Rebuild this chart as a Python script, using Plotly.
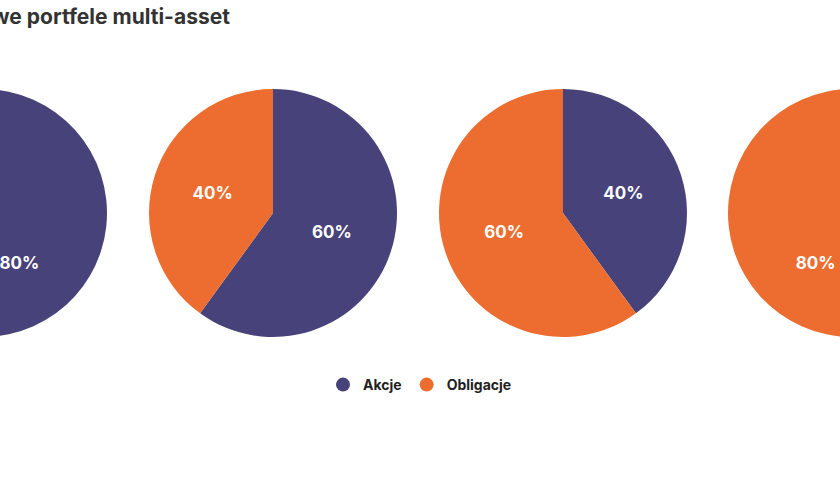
import plotly.graph_objects as go

labels = ["Akcje", "Obligacje"]
portfolios = [[80, 20], [60, 40], [40, 60], [20, 80]]
colors = ["#47427a", "#ec6d2f"]
title = "Przykładowe portfele multi-asset"

W, H, SHIFT = 1160, 480, 160
centers = [-17, 273, 563, 852]
R = 124
fig = go.Figure()
for cx, vals in zip(centers, portfolios):
    c = (cx + SHIFT) / W
    fig.add_trace(go.Pie(
        labels=labels, values=vals, sort=False, direction="clockwise", rotation=0,
        marker=dict(colors=colors), texttemplate="<b>%{percent:.0%}</b>", textinfo="percent",
        textposition="inside", insidetextfont=dict(color="white", size=17, family="Inter"),
        showlegend=False, hoverinfo="skip",
        domain=dict(x=[c - R / W, c + R / W], y=[(H - 213 - R) / H, (H - 213 + R) / H])))
for lab, col in zip(labels, colors):
    fig.add_trace(go.Scatter(x=[None], y=[None], mode="markers", name="<b>" + lab + "</b>",
                             marker=dict(symbol="circle", size=14, color=col)))
fig.update_xaxes(visible=False)
fig.update_yaxes(visible=False)
fig.add_annotation(text="<b>" + title + "</b>", xref="paper", yref="paper",
                   x=(232 + SHIFT) / W, y=1 - 17 / H, xanchor="right", yanchor="middle",
                   showarrow=False, font=dict(size=21, color="#333333", family="Inter"))
fig.update_layout(width=W, height=H, margin=dict(l=0, r=0, t=0, b=0),
                  paper_bgcolor="white", plot_bgcolor="white",
                  font=dict(family="Inter", color="#222222"),
                  legend=dict(orientation="h", x=0.5, xanchor="center", y=1 - 385 / H,
                              yanchor="middle", font=dict(size=14, color="#222222"),
                              itemwidth=30, tracegroupgap=40, bgcolor="rgba(0,0,0,0)"))
post = ("var gd=document.getElementById('{plot_id}');gd.style.marginLeft='-%dpx';"
        "document.body.style.margin='0';document.body.style.overflow='hidden';") % SHIFT
fig.write_html("out.html", post_script=post, config={"displayModeBar": False})
